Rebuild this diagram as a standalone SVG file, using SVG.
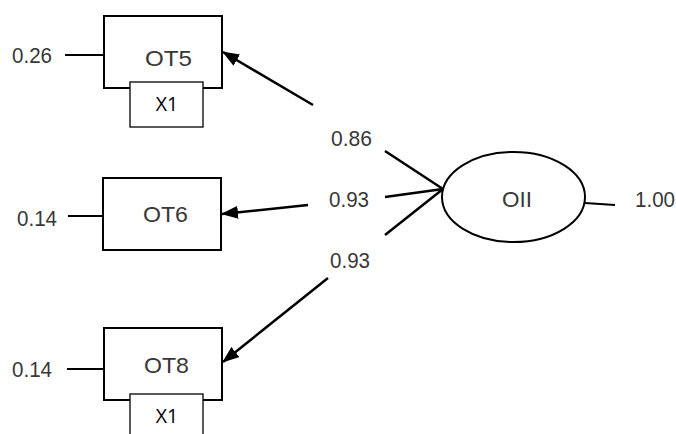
<svg xmlns="http://www.w3.org/2000/svg" width="676" height="434" viewBox="0 0 676 434">
  <style>
    .box { fill: #fff; stroke: #000; stroke-width: 2; }
    .tag { fill: #fff; stroke: #000; stroke-width: 1.3; }
    .lbl { font-family: "Liberation Sans", Arial, sans-serif; font-size: 21.5px; fill: #383838; }
    .mid { text-anchor: middle; }
    .tagtxt { font-family: "Open Sans", "Liberation Sans", sans-serif; font-size: 19.5px; fill: #000; text-anchor: middle; }
    .path { stroke: #000; stroke-width: 2.5; fill: none; }
    .err { stroke: #000; stroke-width: 2; fill: none; }
  </style>
  <defs>
    <marker id="arrow" markerUnits="userSpaceOnUse" markerWidth="17" markerHeight="13" refX="16" refY="6.5" orient="auto">
      <path d="M0,0 L17,6.5 L0,13 z" fill="#000"/>
    </marker>
  </defs>
  <rect width="676" height="434" fill="#fff"/>

  <!-- loadings and error terms -->
  <g id="connectors">
    <line class="path" x1="313" y1="105" x2="223" y2="52" marker-end="url(#arrow)"/>
    <line class="path" x1="308" y1="205" x2="222" y2="214" marker-end="url(#arrow)"/>
    <line class="path" x1="328" y1="278" x2="223" y2="362" marker-end="url(#arrow)"/>
    <line class="path" x1="385" y1="151" x2="443" y2="189"/>
    <line class="path" x1="385" y1="197" x2="443" y2="189"/>
    <line class="path" x1="385" y1="235" x2="443" y2="189"/>
    <line class="err" x1="65" y1="55" x2="104" y2="55"/>
    <line class="err" x1="68" y1="216" x2="104" y2="216"/>
    <line class="err" x1="67" y1="369" x2="104" y2="369"/>
    <line class="err" x1="585" y1="203" x2="615" y2="205"/>
    <text class="lbl" x="12" y="63" textLength="40" lengthAdjust="spacingAndGlyphs">0.26</text>
    <text class="lbl" x="17" y="226" textLength="40" lengthAdjust="spacingAndGlyphs">0.14</text>
    <text class="lbl" x="12" y="377" textLength="40" lengthAdjust="spacingAndGlyphs">0.14</text>
    <text class="lbl" x="331" y="146" textLength="41" lengthAdjust="spacingAndGlyphs">0.86</text>
    <text class="lbl" x="329" y="207" textLength="40" lengthAdjust="spacingAndGlyphs">0.93</text>
    <text class="lbl" x="330" y="268" textLength="40" lengthAdjust="spacingAndGlyphs">0.93</text>
    <text class="lbl" x="635" y="207" textLength="40" lengthAdjust="spacingAndGlyphs">1.00</text>
  </g>

  <g id="OT5">
    <rect class="box" x="104" y="16" width="118" height="72"/>
    <text class="lbl" x="145" y="66" textLength="47" lengthAdjust="spacingAndGlyphs">OT5</text>
    <rect class="tag" x="130" y="82" width="73" height="45"/>
    <text class="tagtxt" x="167" y="111">X1</text>
  </g>

  <g id="OT6">
    <rect class="box" x="103" y="178" width="118" height="72"/>
    <text class="lbl" x="143" y="222" textLength="45" lengthAdjust="spacingAndGlyphs">OT6</text>
  </g>

  <g id="OT8">
    <rect class="box" x="104" y="328" width="118" height="72"/>
    <text class="lbl" x="144" y="373" textLength="45" lengthAdjust="spacingAndGlyphs">OT8</text>
    <rect class="tag" x="130" y="394" width="73" height="45"/>
    <text class="tagtxt" x="167" y="423">X1</text>
  </g>

  <g id="OII">
    <ellipse class="box" cx="513.5" cy="197" rx="71.5" ry="45"/>
    <text class="lbl" x="502" y="207" textLength="30" lengthAdjust="spacingAndGlyphs">OII</text>
  </g>
</svg>
